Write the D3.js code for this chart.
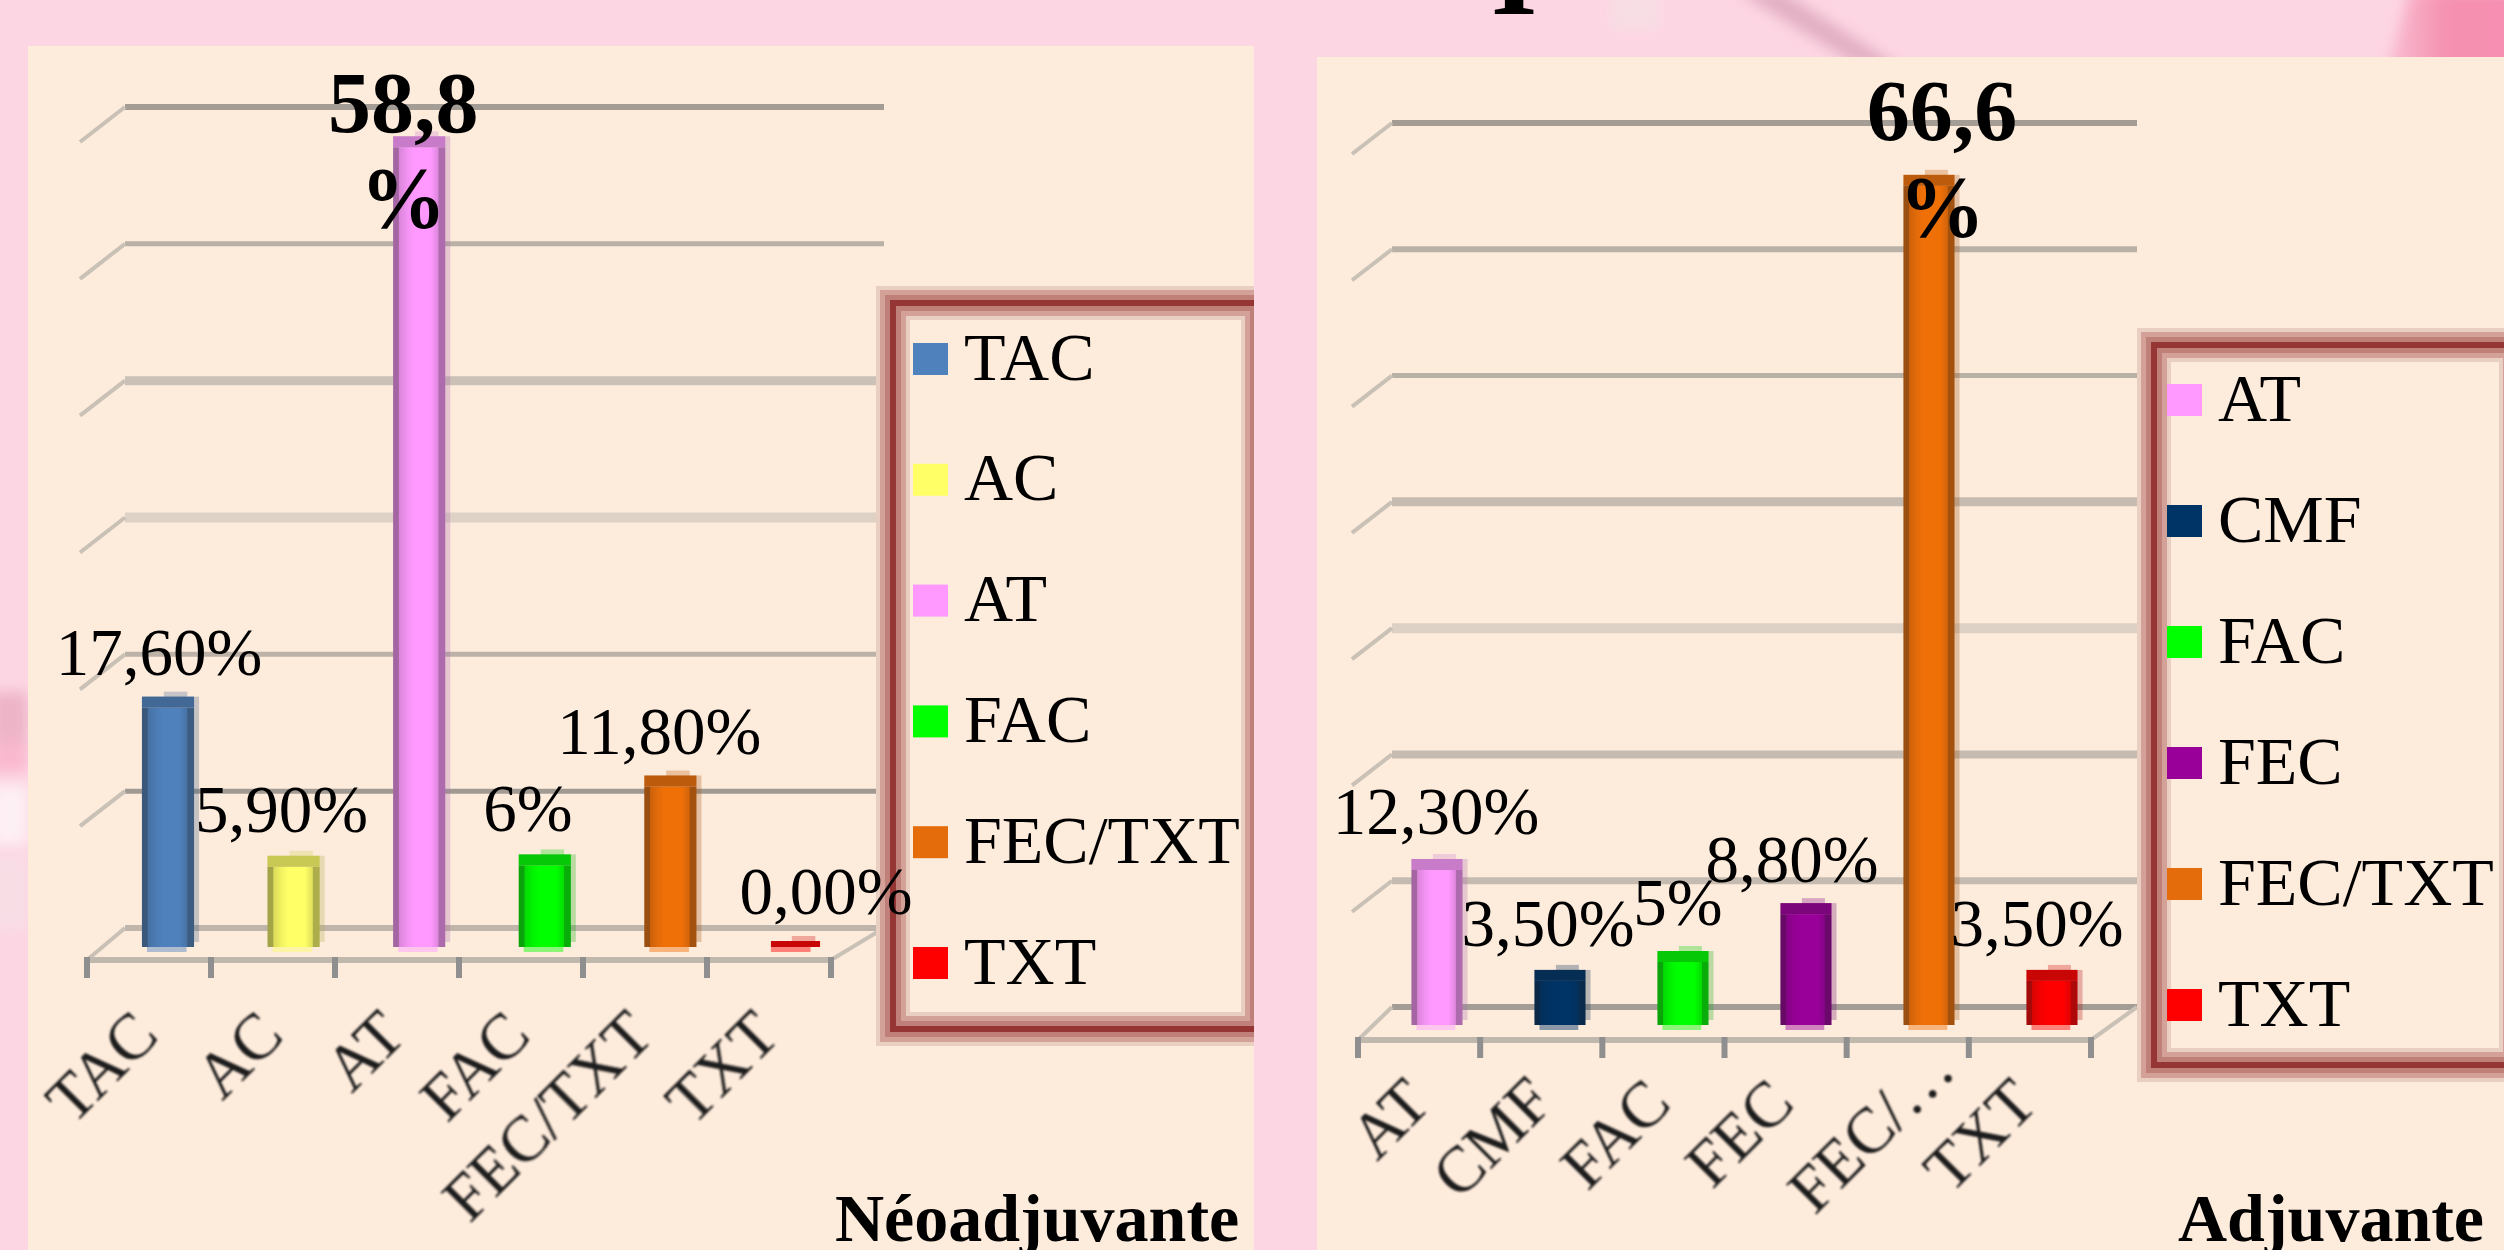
<!DOCTYPE html>
<html><head><meta charset="utf-8">
<script src="https://cdn.jsdelivr.net/npm/d3@7/dist/d3.min.js"></script>
<style>html,body{margin:0;padding:0;background:#FDD6E3;overflow:hidden}svg{display:block}text{font-family:"Liberation Serif",serif;fill:#000}</style>
</head><body><svg id="c" width="2504" height="1250"></svg>
<script>
// ---- data ----
const neoCategories = ["TAC","AC","AT","FAC","FEC/TXT","TXT"];
const neoValues     = [17.6,5.9,58.8,6,11.8,0];
const neoLabels     = ["17,60%","5,90%","58,8|%","6%","11,80%","0,00%"];
const neoTicks      = ["TAC","AC","AT","FAC","FEC/TXT","TXT"];
const adjCategories = ["AT","CMF","FAC","FEC","FEC/TXT","TXT"];
const adjValues     = [12.3,3.5,5,8.8,66.6,3.5];
const adjLabels     = ["12,30%","3,50%","5%","8,80%","66,6|%","3,50%"];
const adjTicks      = ["AT","CMF","FAC","FEC","FEC/…","TXT"];
const neoTitle = "Néoadjuvante", adjTitle = "Adjuvante";

// ---- styles and layout ----
const colours = {TAC:"#4F81BD",AC:"#FFFF66",AT:"#FF99FF",CMF:"#003366",FAC:"#00FF00",FEC:"#990099","FEC/TXT":"#F07008",TXT:"#FF0000"};
const legendColours = Object.assign({},colours,{"FEC/TXT":"#E46C0A"});
const pink="#FDD6E3", panel="#FDEBDC";
const neoLayout = {
  panel:[28,46,1254,1250], max:60, barY:[947,131], gridY:[928,107], bandX:[105.2,858.8], axisX:[87,831], axisY:960,
  wallX:[125,80], wallDy:35, backX:[125,884],
  labelDx:[-9,-12,-16,-17,-11,30], labelDy:[-33,-35,-15,-34,-33,-33], line2:95,
  tickDx:[12,13,11,12,11,13], tickY:1038, tickNudge:[[0,0],[0,0],[0,0],[0,0],[0,0],[0,0]],
  legendBox:[893,303,1258,1029], swatchX:913, textX:964, legendY:[359,963], titleX:835
};
const adjLayout = {
  panel:[1317,57,2504,1250], max:70, barY:[1025,143], gridY:[1007,123], bandX:[1375.5,2113.5], axisX:[1358,2091], axisY:1040,
  wallX:[1392,1352], wallDy:31, backX:[1392,2137],
  labelDx:[-1,-12,-5,-14,13,-15], labelDy:[-36,-35,-37,-32,-46,-35], line2:96.5,
  tickDx:[14,15,10,11,50,10], tickY:1106, tickNudge:[[0,0],[0,-2],[0,0],[0,0],[0,-33],[0,0]],
  legendBox:[2154,345,2516,1065], swatchX:2167, textX:2218, legendY:[400,1005], titleX:2178
};
// gridline styles, from the floor upward
const neoGrid = [["#BFB5AB",6],["#A09A92",5],["#BCB2A8",5],["#DED1C5",10],["#CCC1B6",9],["#B9B0A6",5],["#A39D96",6]];
const adjGrid = [["#A39D96",6],["#C6BBB0",7],["#C6BBB0",8],["#DDD1C5",10],["#C6BBB0",9],["#B9B0A6",5],["#B9B0A6",6],["#A39D96",6]];
const glow = [[34,"#E9CFC2"],[26,"#D3A197"],[16,"#C0807A"],[6,"#963634"]];

const svg = d3.select("#c");
const defs = svg.append("defs");
defs.append("filter").attr("id","soft").attr("x","-5%").attr("y","-5%").attr("width","110%").attr("height","110%")
  .append("feGaussianBlur").attr("stdDeviation",0.7);
defs.append("filter").attr("id","softer").attr("x","-20%").attr("y","-20%").attr("width","140%").attr("height","140%")
  .append("feGaussianBlur").attr("stdDeviation",1.3);
const wide = defs.append("filter").attr("id","bgblur").attr("x","-50%").attr("y","-50%").attr("width","200%").attr("height","200%");
wide.append("feGaussianBlur").attr("stdDeviation",7);
const hot = defs.append("linearGradient").attr("id","hot").attr("x1",0).attr("x2",1);
hot.append("stop").attr("offset",0).attr("stop-color","#F6A9C2").attr("stop-opacity",0.55);
hot.append("stop").attr("offset",0.45).attr("stop-color","#F590B0");
hot.append("stop").attr("offset",1).attr("stop-color","#F78FB2");

// background
svg.append("rect").attr("width",2504).attr("height",1250).attr("fill",pink);
const bg = svg.append("g").attr("filter","url(#bgblur)");
bg.append("path").attr("d","M1735 -10L1780 -10L1905 70L1865 70Z").attr("fill","#E2AFC3");
bg.append("path").attr("d","M2385 80L2410 -10L2520 -10L2520 80Z").attr("fill","url(#hot)");
bg.append("rect").attr("x",1610).attr("y",-10).attr("width",50).attr("height",40).attr("fill","#F7DDE4");
bg.append("rect").attr("x",-10).attr("y",692).attr("width",38).attr("height",50).attr("fill","#EDB4C8");
bg.append("rect").attr("x",-10).attr("y",742).attr("width",38).attr("height",30).attr("fill","#FAB8CF");
bg.append("rect").attr("x",-10).attr("y",785).attr("width",38).attr("height",60).attr("fill","#FDF0F4");
bg.append("rect").attr("x",-10).attr("y",855).attr("width",38).attr("height",75).attr("fill","#F8DDE5");
svg.append("text").attr("x",1514).attr("y",14).attr("text-anchor","middle").attr("font-weight","bold").attr("font-size",120).attr("filter","url(#soft)").text("I");

function shade(c,t){return d3.interpolateRgb(c,"#1a1a1a")(t);}
Object.entries(colours).forEach(([k,c],i)=>{
  const g=defs.append("linearGradient").attr("id","bar"+i).attr("x1",0).attr("x2",1);
  [[0,.4],[.1,.4],[.12,.16],[.28,.05],[.4,0],[.72,0],[.86,.14],[.88,.36],[1,.36]].forEach(([o,t])=>
    g.append("stop").attr("offset",o).attr("stop-color",shade(c,t)));
});
const gradId = k => "url(#bar"+Object.keys(colours).indexOf(k)+")";

function drawChart(cats,vals,labels,ticks,title,grid,L,idx){
  const [px0,py0,px1,py1]=L.panel;
  const clipId="clip"+idx;
  defs.append("clipPath").attr("id",clipId).append("rect").attr("x",px0).attr("y",py0).attr("width",px1-px0).attr("height",py1-py0);
  const g=svg.append("g").attr("clip-path","url(#"+clipId+")");
  g.append("rect").attr("x",px0).attr("y",py0).attr("width",px1-px0).attr("height",py1-py0).attr("fill",panel);

  const y=d3.scaleLinear().domain([0,L.max]).range(L.barY);
  const yGrid=d3.scaleLinear().domain([0,L.max]).range(L.gridY);
  const x=d3.scaleBand().domain(cats).range(L.bandX);
  const xAxis=d3.scaleBand().domain(cats).range(L.axisX);
  const gv=d3.range(0,L.max+1,10);

  // gridlines on the back wall, side wall steps
  const gl=g.append("g");
  gl.selectAll("line.g").data(gv).join("line").attr("class","g")
    .attr("x1",L.backX[0]).attr("x2",L.backX[1]).attr("y1",d=>yGrid(d)).attr("y2",d=>yGrid(d))
    .attr("stroke",(d,i)=>grid[i][0]).attr("stroke-width",(d,i)=>grid[i][1]);
  gl.selectAll("line.w").data(gv).join("line").attr("class","w")
    .attr("x1",L.wallX[0]).attr("x2",d=>d===0?L.axisX[0]:L.wallX[1])
    .attr("y1",d=>yGrid(d)).attr("y2",d=>d===0?L.axisY:yGrid(d)+L.wallDy)
    .attr("stroke","#C9C0B6").attr("stroke-width",4);
  // floor, front axis and ticks
  gl.append("line").attr("x1",L.backX[1]).attr("x2",L.axisX[1]).attr("y1",yGrid(0)).attr("y2",L.axisY).attr("stroke","#C9C0B6").attr("stroke-width",4);
  gl.append("line").attr("x1",L.axisX[0]).attr("x2",L.axisX[1]).attr("y1",L.axisY).attr("y2",L.axisY).attr("stroke","#C0B7AD").attr("stroke-width",6);
  const edges=cats.map(c=>xAxis(c)).concat([L.axisX[1]]);
  gl.selectAll("line.t").data(edges).join("line").attr("class","t")
    .attr("x1",d=>d).attr("x2",d=>d).attr("y1",L.axisY-3).attr("y2",L.axisY+18)
    .attr("stroke","#8F8F8F").attr("stroke-width",6);

  // bars
  const bw=x.bandwidth()*0.415;
  const rows=cats.map((c,i)=>({c,v:vals[i],i}));
  const bars=g.append("g").selectAll("g").data(rows).join("g")
    .attr("transform",d=>`translate(${x(d.c)+x.bandwidth()/2-bw/2},0)`);
  const capH=d=>d.v>0?11:6;
  bars.filter(d=>d.v>0).append("rect").attr("x",0).attr("width",bw+5).attr("y",d=>y(d.v)-capH(d)).attr("height",d=>y(0)-y(d.v)+capH(d)-5)
    .attr("fill",d=>shade(colours[d.c],.35)).attr("opacity",.28);
  bars.append("rect").attr("x",bw*.42).attr("width",bw*.45).attr("y",d=>y(d.v)-capH(d)-5).attr("height",6)
    .attr("fill",d=>shade(colours[d.c],.2)).attr("opacity",.3);
  bars.append("rect").attr("x",0).attr("width",bw).attr("y",d=>y(d.v)).attr("height",d=>y(0)-y(d.v)).attr("fill",d=>gradId(d.c));
  bars.append("rect").attr("x",d=>d.v>0?0:1).attr("width",d=>d.v>0?bw:bw-3).attr("y",d=>y(d.v)-capH(d)).attr("height",capH)
    .attr("fill",d=>shade(colours[d.c],.24));
  bars.append("rect").attr("x",d=>d.v>0?5:1).attr("width",bw*.76).attr("y",y(0)).attr("height",5)
    .attr("fill",d=>colours[d.c]).attr("opacity",.45);

  // category labels
  const tl=g.append("g").attr("filter","url(#softer)");
  tl.selectAll("text").data(rows).join("text")
    .attr("text-anchor","end").attr("font-size",65).style("fill","#1c1c1c")
    .attr("transform",d=>`translate(${xAxis(d.c)+xAxis.bandwidth()/2+L.tickDx[d.i]+L.tickNudge[d.i][0]},${L.tickY+L.tickNudge[d.i][1]}) rotate(-45)`)
    .text(d=>ticks[d.i]);

  // legend
  const [lx0,ly0,lx1,ly1]=L.legendBox;
  const lg=g.append("g");
  lg.append("rect").attr("x",lx0).attr("y",ly0).attr("width",lx1-lx0).attr("height",ly1-ly0).attr("fill",panel);
  glow.forEach(([w,c])=>lg.append("rect").attr("x",lx0).attr("y",ly0).attr("width",lx1-lx0).attr("height",ly1-ly0)
    .attr("fill","none").attr("stroke",c).attr("stroke-width",w));
  const ly=d3.scalePoint().domain(cats).range(L.legendY);
  lg.selectAll("rect.s").data(cats).join("rect").attr("class","s")
    .attr("x",L.swatchX).attr("width",35).attr("y",d=>ly(d)-16).attr("height",32).attr("fill",d=>legendColours[d]);
  lg.append("g").attr("filter","url(#soft)").selectAll("text").data(cats).join("text")
    .attr("x",L.textX).attr("y",d=>ly(d)+20.5).attr("font-size",68).text(d=>d);

  // data labels sit above everything, including the legend frame
  const dl=g.append("g").attr("filter","url(#soft)");
  rows.forEach(d=>{
    const parts=labels[d.i].split("|");
    const cx=x(d.c)+x.bandwidth()/2+L.labelDx[d.i], by=y(d.v)+L.labelDy[d.i];
    parts.forEach((p,k)=>dl.append("text").attr("x",cx).attr("y",by+k*L.line2)
      .attr("text-anchor","middle").attr("font-size",parts.length>1?86:67)
      .attr("font-weight",parts.length>1?"bold":"normal").text(p));
  });

  g.append("text").attr("x",L.titleX).attr("y",1241).attr("font-size",68).attr("font-weight","bold").attr("filter","url(#soft)").text(title);
}
drawChart(neoCategories,neoValues,neoLabels,neoTicks,neoTitle,neoGrid,neoLayout,0);
drawChart(adjCategories,adjValues,adjLabels,adjTicks,adjTitle,adjGrid,adjLayout,1);
</script></body></html>
